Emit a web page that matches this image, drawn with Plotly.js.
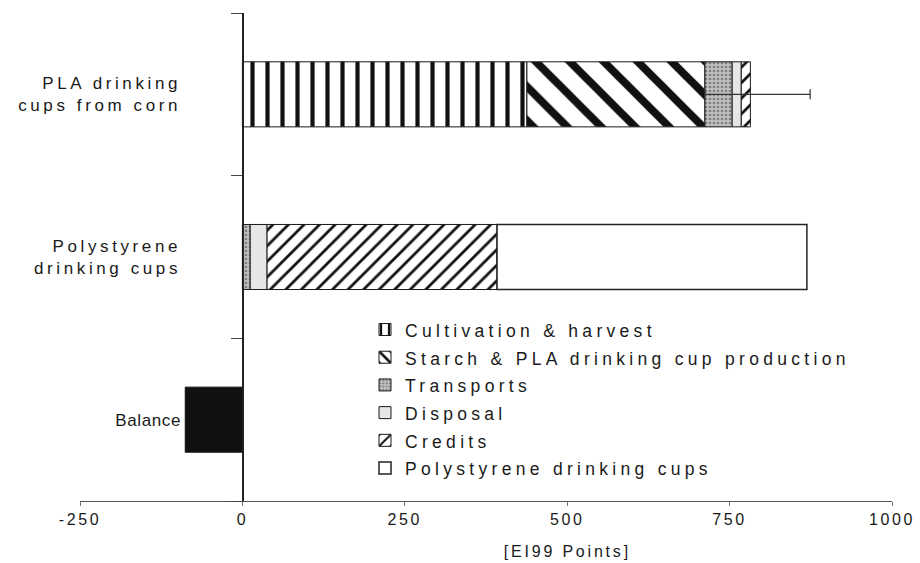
<!DOCTYPE html>
<html>
<head>
<meta charset="utf-8">
<script src="https://cdn.plot.ly/plotly-3.0.1.min.js"></script>
<style>
  html, body { margin: 0; padding: 0; background: #fff; }
  #chart { width: 920px; height: 563px; }
  /* wide, airy lettering of the printed figure */
  .legendtext { letter-spacing: 4.3px; font-size: 17.5px !important; }
  #chart .xtick text { letter-spacing: 2.6px; }
  #chart .ytick text { letter-spacing: 3.6px; }
  #chart .ytick:first-of-type text { letter-spacing: 0.6px; }
  #chart .annotation-text { letter-spacing: 2.8px; }
</style>
</head>
<body>
<div id="chart"></div>
<script>
// Categories, bottom to top
const categories = ['Balance', 'Polystyrene<br>drinking cups', 'PLA drinking<br>cups from corn'];

// Eco-indicator 99 points per life-cycle stage, one value per category
const cultivation = [null, null, 438];
const starchPla   = [null, null, 274];
const transports  = [null, 12, 42];
const disposal    = [null, 26, 14];
const credits     = [null, 354, 14];
const polystyrene = [null, 477, null];
const balance     = [-88, null, null];

// Uncertainty range on the PLA total
const errPlus  = [null, null, 92];
const errMinus = [null, null, 70];

const xTicks = [-250, 0, 250, 500, 750, 1000];

const edge = { color: '#1a1a1a', width: 1 };

const traces = [
  {
    name: 'Cultivation & harvest', type: 'bar', orientation: 'h',
    y: categories, x: cultivation,
    marker: { color: '#ffffff', line: edge,
      pattern: { shape: '|', fgcolor: '#111', bgcolor: '#ffffff', size: 15, solidity: 0.28 } }
  },
  {
    name: 'Starch & PLA drinking cup production', type: 'bar', orientation: 'h',
    y: categories, x: starchPla,
    marker: { color: '#ffffff', line: edge,
      pattern: { shape: '\\', fgcolor: '#111', bgcolor: '#ffffff', size: 24, solidity: 0.33 } }
  },
  {
    name: 'Transports', type: 'bar', orientation: 'h',
    y: categories, x: transports,
    marker: { color: '#b5b5b5', line: edge,
      pattern: { shape: '.', fgcolor: '#7e7e7e', bgcolor: '#bfbfbf', size: 4, solidity: 0.35 } }
  },
  {
    name: 'Disposal', type: 'bar', orientation: 'h',
    y: categories, x: disposal,
    marker: { color: '#e6e6e6', line: edge }
  },
  {
    name: 'Credits', type: 'bar', orientation: 'h',
    y: categories, x: credits,
    marker: { color: '#ffffff', line: edge,
      pattern: { shape: '/', fgcolor: '#111', bgcolor: '#ffffff', size: 11, solidity: 0.25 } },
    error_x: { type: 'data', symmetric: false, array: errPlus, arrayminus: errMinus,
      color: '#333', thickness: 1.2, width: 5 }
  },
  {
    name: 'Polystyrene drinking cups', type: 'bar', orientation: 'h',
    y: categories, x: polystyrene,
    marker: { color: '#ffffff', line: { color: '#222', width: 1.5 } }
  },
  {
    name: 'Balance', type: 'bar', orientation: 'h', showlegend: false,
    y: categories, x: balance,
    marker: { color: '#111111', line: { color: '#111', width: 1 } }
  }
];

const font = { family: 'Arial, "Liberation Sans", sans-serif', color: '#1a1a1a' };

const layout = {
  width: 920, height: 563,
  margin: { l: 80, r: 28, t: 13, b: 62 },
  paper_bgcolor: '#ffffff', plot_bgcolor: '#ffffff',
  barmode: 'relative', bargap: 0.6,
  font: Object.assign({ size: 16 }, font),
  showlegend: true,
  legend: {
    x: 0.351, y: 0.39, xanchor: 'left', yanchor: 'top',
    traceorder: 'normal', bgcolor: 'rgba(0,0,0,0)', borderwidth: 0,
    font: Object.assign({ size: 19 }, font)
  },
  xaxis: {
    range: [-250, 1000], tickvals: xTicks, ticktext: xTicks.map(String),
    showgrid: false, zeroline: false,
    showline: true, linecolor: '#555', linewidth: 1,
    ticks: 'outside', ticklen: 4, tickcolor: '#777', tickwidth: 1,
    tickfont: Object.assign({ size: 16 }, font)
  },
  yaxis: {
    type: 'category', categoryorder: 'array', categoryarray: categories,
    anchor: 'free', position: 0.2,
    showgrid: false, zeroline: false,
    showline: true, linecolor: '#222', linewidth: 1.5,
    ticks: 'outside', tickson: 'boundaries', ticklen: 11, tickcolor: '#444', tickwidth: 1,
    ticklabelstandoff: 58,
    tickfont: Object.assign({ size: 17 }, font)
  },
  annotations: [{
    text: '[EI99 Points]', xref: 'x', yref: 'paper', x: 500, y: -0.1025,
    xanchor: 'center', yanchor: 'middle', showarrow: false,
    font: Object.assign({ size: 16 }, font)
  }]
};

Plotly.newPlot('chart', traces, layout, { staticPlot: true, displayModeBar: false });
</script>
</body>
</html>
